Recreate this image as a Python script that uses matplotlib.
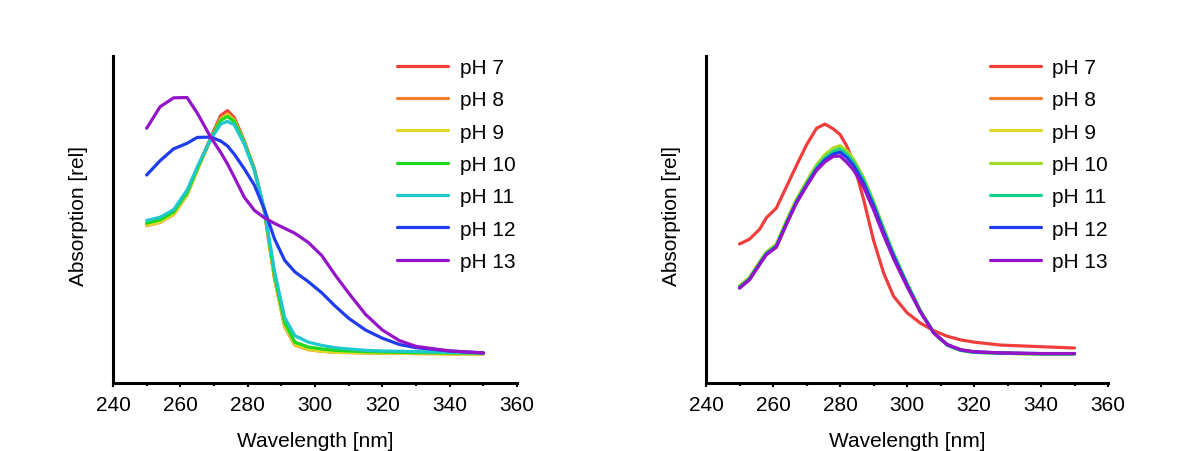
import matplotlib
matplotlib.use("Agg")
import matplotlib.pyplot as plt
from matplotlib.ticker import MultipleLocator

plt.rcParams["font.family"] = ["Liberation Sans", "DejaVu Sans"]

labels = ["pH 7", "pH 8", "pH 9", "pH 10", "pH 11", "pH 12", "pH 13"]

# ---- left panel ---------------------------------------------------------
wl_left = [250, 254, 258, 262, 265, 269, 272, 274, 276, 279, 282, 285, 288,
           291, 294, 298, 302, 306, 310, 315, 320, 325, 330, 340, 350]

left_ph7 = [0.486, 0.496, 0.520, 0.580, 0.655, 0.750, 0.818, 0.833, 0.812, 0.740,
            0.655, 0.525, 0.320, 0.175, 0.118, 0.104, 0.098, 0.095, 0.094, 0.093,
            0.092, 0.092, 0.091, 0.090, 0.090]
left_ph8 = [0.481, 0.491, 0.515, 0.575, 0.650, 0.745, 0.810, 0.825, 0.806, 0.737,
            0.652, 0.522, 0.318, 0.172, 0.116, 0.102, 0.097, 0.094, 0.093, 0.092,
            0.091, 0.091, 0.090, 0.089, 0.089]
left_ph9 = [0.482, 0.492, 0.516, 0.576, 0.651, 0.744, 0.806, 0.820, 0.803, 0.736,
            0.652, 0.523, 0.320, 0.175, 0.118, 0.103, 0.097, 0.094, 0.093, 0.092,
            0.091, 0.091, 0.090, 0.089, 0.089]
left_ph10 = [0.489, 0.499, 0.523, 0.582, 0.655, 0.746, 0.803, 0.815, 0.800, 0.735,
             0.653, 0.526, 0.328, 0.185, 0.125, 0.110, 0.104, 0.100, 0.098, 0.096,
             0.095, 0.094, 0.093, 0.092, 0.091]
left_ph11 = [0.497, 0.507, 0.530, 0.590, 0.660, 0.745, 0.792, 0.800, 0.790, 0.730,
             0.650, 0.530, 0.340, 0.200, 0.145, 0.125, 0.115, 0.108, 0.104, 0.100,
             0.098, 0.097, 0.096, 0.094, 0.092]
left_ph12 = [0.636, 0.680, 0.716, 0.733, 0.751, 0.752, 0.740, 0.725, 0.700, 0.655,
             0.605, 0.530, 0.440, 0.375, 0.340, 0.310, 0.276, 0.235, 0.198, 0.162,
             0.137, 0.118, 0.108, 0.098, 0.092]
left_ph13 = [0.779, 0.845, 0.872, 0.873, 0.826, 0.752, 0.705, 0.670, 0.630, 0.568,
             0.528, 0.505, 0.488, 0.473, 0.458, 0.430, 0.390, 0.330, 0.275, 0.210,
             0.162, 0.130, 0.112, 0.098, 0.092]

# ---- right panel --------------------------------------------------------
wl_right = [250, 253, 256, 258, 261, 264, 267, 270, 273, 275.5, 278, 280, 282,
            284, 287, 290, 293, 296, 300, 304, 308, 312, 316, 320, 328, 340, 350]

right_ph7 = [0.425, 0.440, 0.470, 0.505, 0.535, 0.600, 0.665, 0.728, 0.779, 0.792,
             0.777, 0.760, 0.725, 0.675, 0.563, 0.437, 0.337, 0.265, 0.215, 0.183,
             0.160, 0.143, 0.132, 0.125, 0.116, 0.111, 0.107]
right_ph8 = [0.295, 0.321, 0.368, 0.398, 0.422, 0.493, 0.559, 0.612, 0.662, 0.692,
             0.713, 0.720, 0.705, 0.680, 0.625, 0.552, 0.470, 0.393, 0.303, 0.220,
             0.153, 0.116, 0.100, 0.094, 0.091, 0.089, 0.089]
right_ph9 = [0.297, 0.323, 0.370, 0.400, 0.425, 0.496, 0.562, 0.616, 0.667, 0.698,
             0.719, 0.726, 0.710, 0.684, 0.628, 0.555, 0.472, 0.395, 0.304, 0.220,
             0.153, 0.116, 0.100, 0.094, 0.091, 0.089, 0.089]
right_ph10 = [0.297, 0.323, 0.370, 0.400, 0.424, 0.495, 0.561, 0.615, 0.666, 0.697,
              0.718, 0.724, 0.709, 0.684, 0.628, 0.555, 0.473, 0.396, 0.305, 0.221,
              0.154, 0.117, 0.100, 0.094, 0.091, 0.089, 0.089]
right_ph11 = [0.293, 0.319, 0.366, 0.396, 0.420, 0.490, 0.556, 0.609, 0.659, 0.688,
              0.708, 0.716, 0.700, 0.676, 0.622, 0.550, 0.469, 0.394, 0.304, 0.220,
              0.153, 0.116, 0.100, 0.094, 0.091, 0.089, 0.089]
right_ph12 = [0.291, 0.317, 0.364, 0.394, 0.417, 0.487, 0.553, 0.605, 0.654, 0.682,
              0.700, 0.706, 0.690, 0.666, 0.612, 0.542, 0.462, 0.388, 0.300, 0.218,
              0.153, 0.117, 0.101, 0.095, 0.092, 0.090, 0.090]
right_ph13 = [0.290, 0.316, 0.362, 0.392, 0.415, 0.485, 0.550, 0.602, 0.650, 0.676,
              0.693, 0.694, 0.675, 0.652, 0.600, 0.530, 0.452, 0.380, 0.295, 0.217,
              0.153, 0.118, 0.102, 0.096, 0.092, 0.090, 0.090]

left_colours = ["#f23d3d", "#f07d2a", "#e2d62a", "#1ed81e", "#1ec8cc", "#1e3cf0", "#9614c8"]
right_colours = ["#f23d3d", "#f07d2a", "#e2d62a", "#a0dc28", "#14d28c", "#1e3cf0", "#9614c8"]

FS = 15

fig = plt.figure(figsize=(11.79, 4.52), dpi=100)
ax_l = fig.add_axes([113 / 1179, 68 / 452, 404 / 1179, 327 / 452])
ax_r = fig.add_axes([706 / 1179, 68 / 452, 402 / 1179, 327 / 452])

panels = [
    (ax_l, wl_left, [left_ph7, left_ph8, left_ph9, left_ph10, left_ph11, left_ph12, left_ph13],
     left_colours, 397),
    (ax_r, wl_right, [right_ph7, right_ph8, right_ph9, right_ph10, right_ph11, right_ph12, right_ph13],
     right_colours, 990),
]

for ax, wl, series, colours, leg_x in panels:
    handles = []
    for ys, c, lab in zip(series, colours, labels):
        h, = ax.plot(wl, ys, color=c, lw=2.3, label=lab, solid_capstyle="round")
        handles.append(h)
    ax.set_xlim(240, 360)
    ax.set_ylim(0, 1)
    ax.xaxis.set_major_locator(MultipleLocator(20))
    ax.xaxis.set_minor_locator(MultipleLocator(10))
    ax.tick_params(axis="x", which="major", length=3, width=1.5, labelsize=FS, pad=6)
    ax.tick_params(axis="x", which="minor", length=2, width=1.5)
    ax.set_yticks([])
    for side in ("top", "right"):
        ax.spines[side].set_visible(False)
    for side in ("left", "bottom"):
        ax.spines[side].set_linewidth(2.2)
    ax.set_xlabel("Wavelength [nm]", fontsize=FS, labelpad=12)
    ax.set_ylabel("Absorption [rel]", fontsize=FS)
    ax.yaxis.set_label_coords(-0.063, 0.515)
    fig.legend(handles=handles, loc="upper left", frameon=False,
               bbox_to_anchor=(leg_x / 1179, 1 - 59 / 452),
               borderaxespad=0, borderpad=0, fontsize=FS,
               handlelength=2.45, handletextpad=0.55, labelspacing=0.64)

fig.savefig("out.png", dpi=100, facecolor="white")
